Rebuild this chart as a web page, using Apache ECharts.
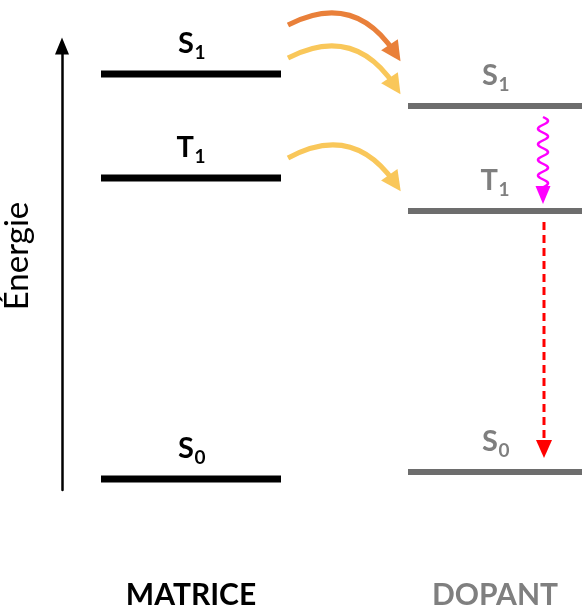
<!DOCTYPE html>
<html><head><meta charset="utf-8">
<script src="https://cdn.jsdelivr.net/npm/echarts@6/dist/echarts.min.js"></script>
<style>html,body{margin:0;padding:0;background:#fff}#c{width:582px;height:608px}</style>
</head><body><div id="c"></div>
<script>
// ---- data (energies in arbitrary units) ----
const columns = ['MATRICE', 'DOPANT'];
const levelLetters = ['S', 'T', 'S'];
const levelSubs = ['1', '1', '0'];
const matriceEnergy = [534, 430, 129];
const dopantEnergy = [502, 397, 136];
// energy transfers matrice -> dopant (start / end energy of the arrows)
const transferFrom = [583, 550, 450];
const transferTo = [555, 522, 425];
const transferColors = ['#E9803A', '#F9C75A', '#F9C75A'];
// dopant internal processes
const iscFrom = 491, iscTo = 404;    // S1 -> T1 (wavy, non radiative)
const phosFrom = 386, phosTo = 150;  // T1 -> S0 (dashed, emission)

// ---- layout ----
const colRange = [[101, 281], [408, 582]];
const levelThick = [7, 6];
const levelColor = ['#000000', '#6D6D6D'];
const labelColor = ['#000000', '#7F7F7F'];
const transferX = [288, 395];
const decayX = 543;
const FONT = 'Lato, "Open Sans", sans-serif';

const levelData = [];
[matriceEnergy, dopantEnergy].forEach((arr, c) => arr.forEach((e, i) => levelData.push([c, i, e])));

const chart = echarts.init(document.getElementById('c'), null, {renderer: 'canvas'});

function arrowHead(tip, w, h, color) {
  return {type: 'polygon', shape: {points: [[tip[0], tip[1]], [tip[0] - w / 2, tip[1] - h], [tip[0] + w / 2, tip[1] - h]]}, style: {fill: color}};
}

chart.setOption({
  animation: false,
  grid: [
    {left: 0, right: 0, top: 0, bottom: 0},
    {left: 57, top: 46, bottom: 118, width: 10}
  ],
  xAxis: [
    {type: 'value', min: 0, max: 582, show: false, gridIndex: 0},
    {type: 'value', min: 0, max: 1, show: false, gridIndex: 1}
  ],
  yAxis: [
    {type: 'value', min: 0, max: 608, show: false, gridIndex: 0},
    {type: 'value', min: 0, max: 1, gridIndex: 1, position: 'left',
     axisLine: {show: true, symbol: ['none', 'triangle'], symbolSize: [14, 17], lineStyle: {color: '#000', width: 2.5}},
     axisTick: {show: false}, axisLabel: {show: false}, splitLine: {show: false},
     name: 'Énergie', nameLocation: 'middle', nameGap: 28, nameRotate: 90,
     nameTextStyle: {fontFamily: FONT, fontSize: 33, color: '#000', padding: [0, 0, 0, 24]}}
  ],
  series: [
    {
      type: 'custom', xAxisIndex: 0, yAxisIndex: 0, data: levelData,
      renderItem: function (params, api) {
        const c = api.value(0), i = api.value(1), e = api.value(2);
        const p0 = api.coord([colRange[c][0], e]);
        const p1 = api.coord([colRange[c][1], e]);
        const t = levelThick[c];
        const cx = (p0[0] + p1[0]) / 2 + 3;
        return {type: 'group', children: [
          {type: 'rect', shape: {x: p0[0], y: p0[1] - t / 2, width: p1[0] - p0[0], height: t}, style: {fill: levelColor[c]}},
          {type: 'text', style: {text: levelLetters[i], x: cx, y: p0[1] - 30, align: 'right', verticalAlign: 'middle',
            font: 'bold 29px ' + FONT, fill: labelColor[c]}},
          {type: 'text', style: {text: levelSubs[i], x: cx + 0.5, y: p0[1] - 21, align: 'left', verticalAlign: 'middle',
            font: 'bold 19px ' + FONT, fill: labelColor[c]}}
        ]};
      }
    },
    {
      type: 'custom', xAxisIndex: 0, yAxisIndex: 0, data: columns.map((n, c) => [c]),
      renderItem: function (params, api) {
        const c = api.value(0);
        const p = api.coord([(colRange[c][0] + colRange[c][1]) / 2, 13]);
        return {type: 'text', style: {text: columns[c], x: p[0], y: p[1], align: 'center', verticalAlign: 'middle',
          font: 'bold 30px ' + FONT, fill: labelColor[c]}};
      }
    },
    {
      type: 'lines', coordinateSystem: 'cartesian2d', xAxisIndex: 0, yAxisIndex: 0,
      symbol: ['none', 'triangle'], symbolSize: [18, 20],
      data: transferFrom.map((f, k) => ({
        coords: [[transferX[0], f], [transferX[1], transferTo[k]]],
        lineStyle: {color: transferColors[k], width: 5, curveness: 0.45, opacity: 1}
      })),
      lineStyle: {width: 5, curveness: 0.45, opacity: 1}
    },
    {
      type: 'custom', xAxisIndex: 0, yAxisIndex: 0, data: [[decayX, iscFrom, iscTo]],
      renderItem: function (params, api) {
        const a = api.coord([api.value(0), api.value(1)]);
        const b = api.coord([api.value(0), api.value(2)]);
        const head = 17, amp = 5, period = 15.6;
        const pts = [];
        for (let y = a[1]; y <= b[1] - head + 0.01; y += 0.5) {
          pts.push([a[0] + amp * Math.sin((y - a[1]) / period * 2 * Math.PI), y]);
        }
        return {type: 'group', children: [
          {type: 'polyline', shape: {points: pts}, style: {stroke: '#FF00FF', lineWidth: 2.5, fill: null}},
          arrowHead([b[0], b[1]], 15, head + 1, '#FF00FF')
        ]};
      }
    },
    {
      type: 'custom', xAxisIndex: 0, yAxisIndex: 0, data: [[decayX + 1, phosFrom, phosTo]],
      renderItem: function (params, api) {
        const a = api.coord([api.value(0), api.value(1)]);
        const b = api.coord([api.value(0), api.value(2)]);
        const head = 18;
        return {type: 'group', children: [
          {type: 'line', shape: {x1: a[0], y1: a[1], x2: b[0], y2: b[1] - head + 1}, style: {stroke: '#FF0000', lineWidth: 3, lineDash: [8, 5]}},
          arrowHead([b[0], b[1]], 16, head, '#FF0000')
        ]};
      }
    }
  ]
});
</script></body></html>
